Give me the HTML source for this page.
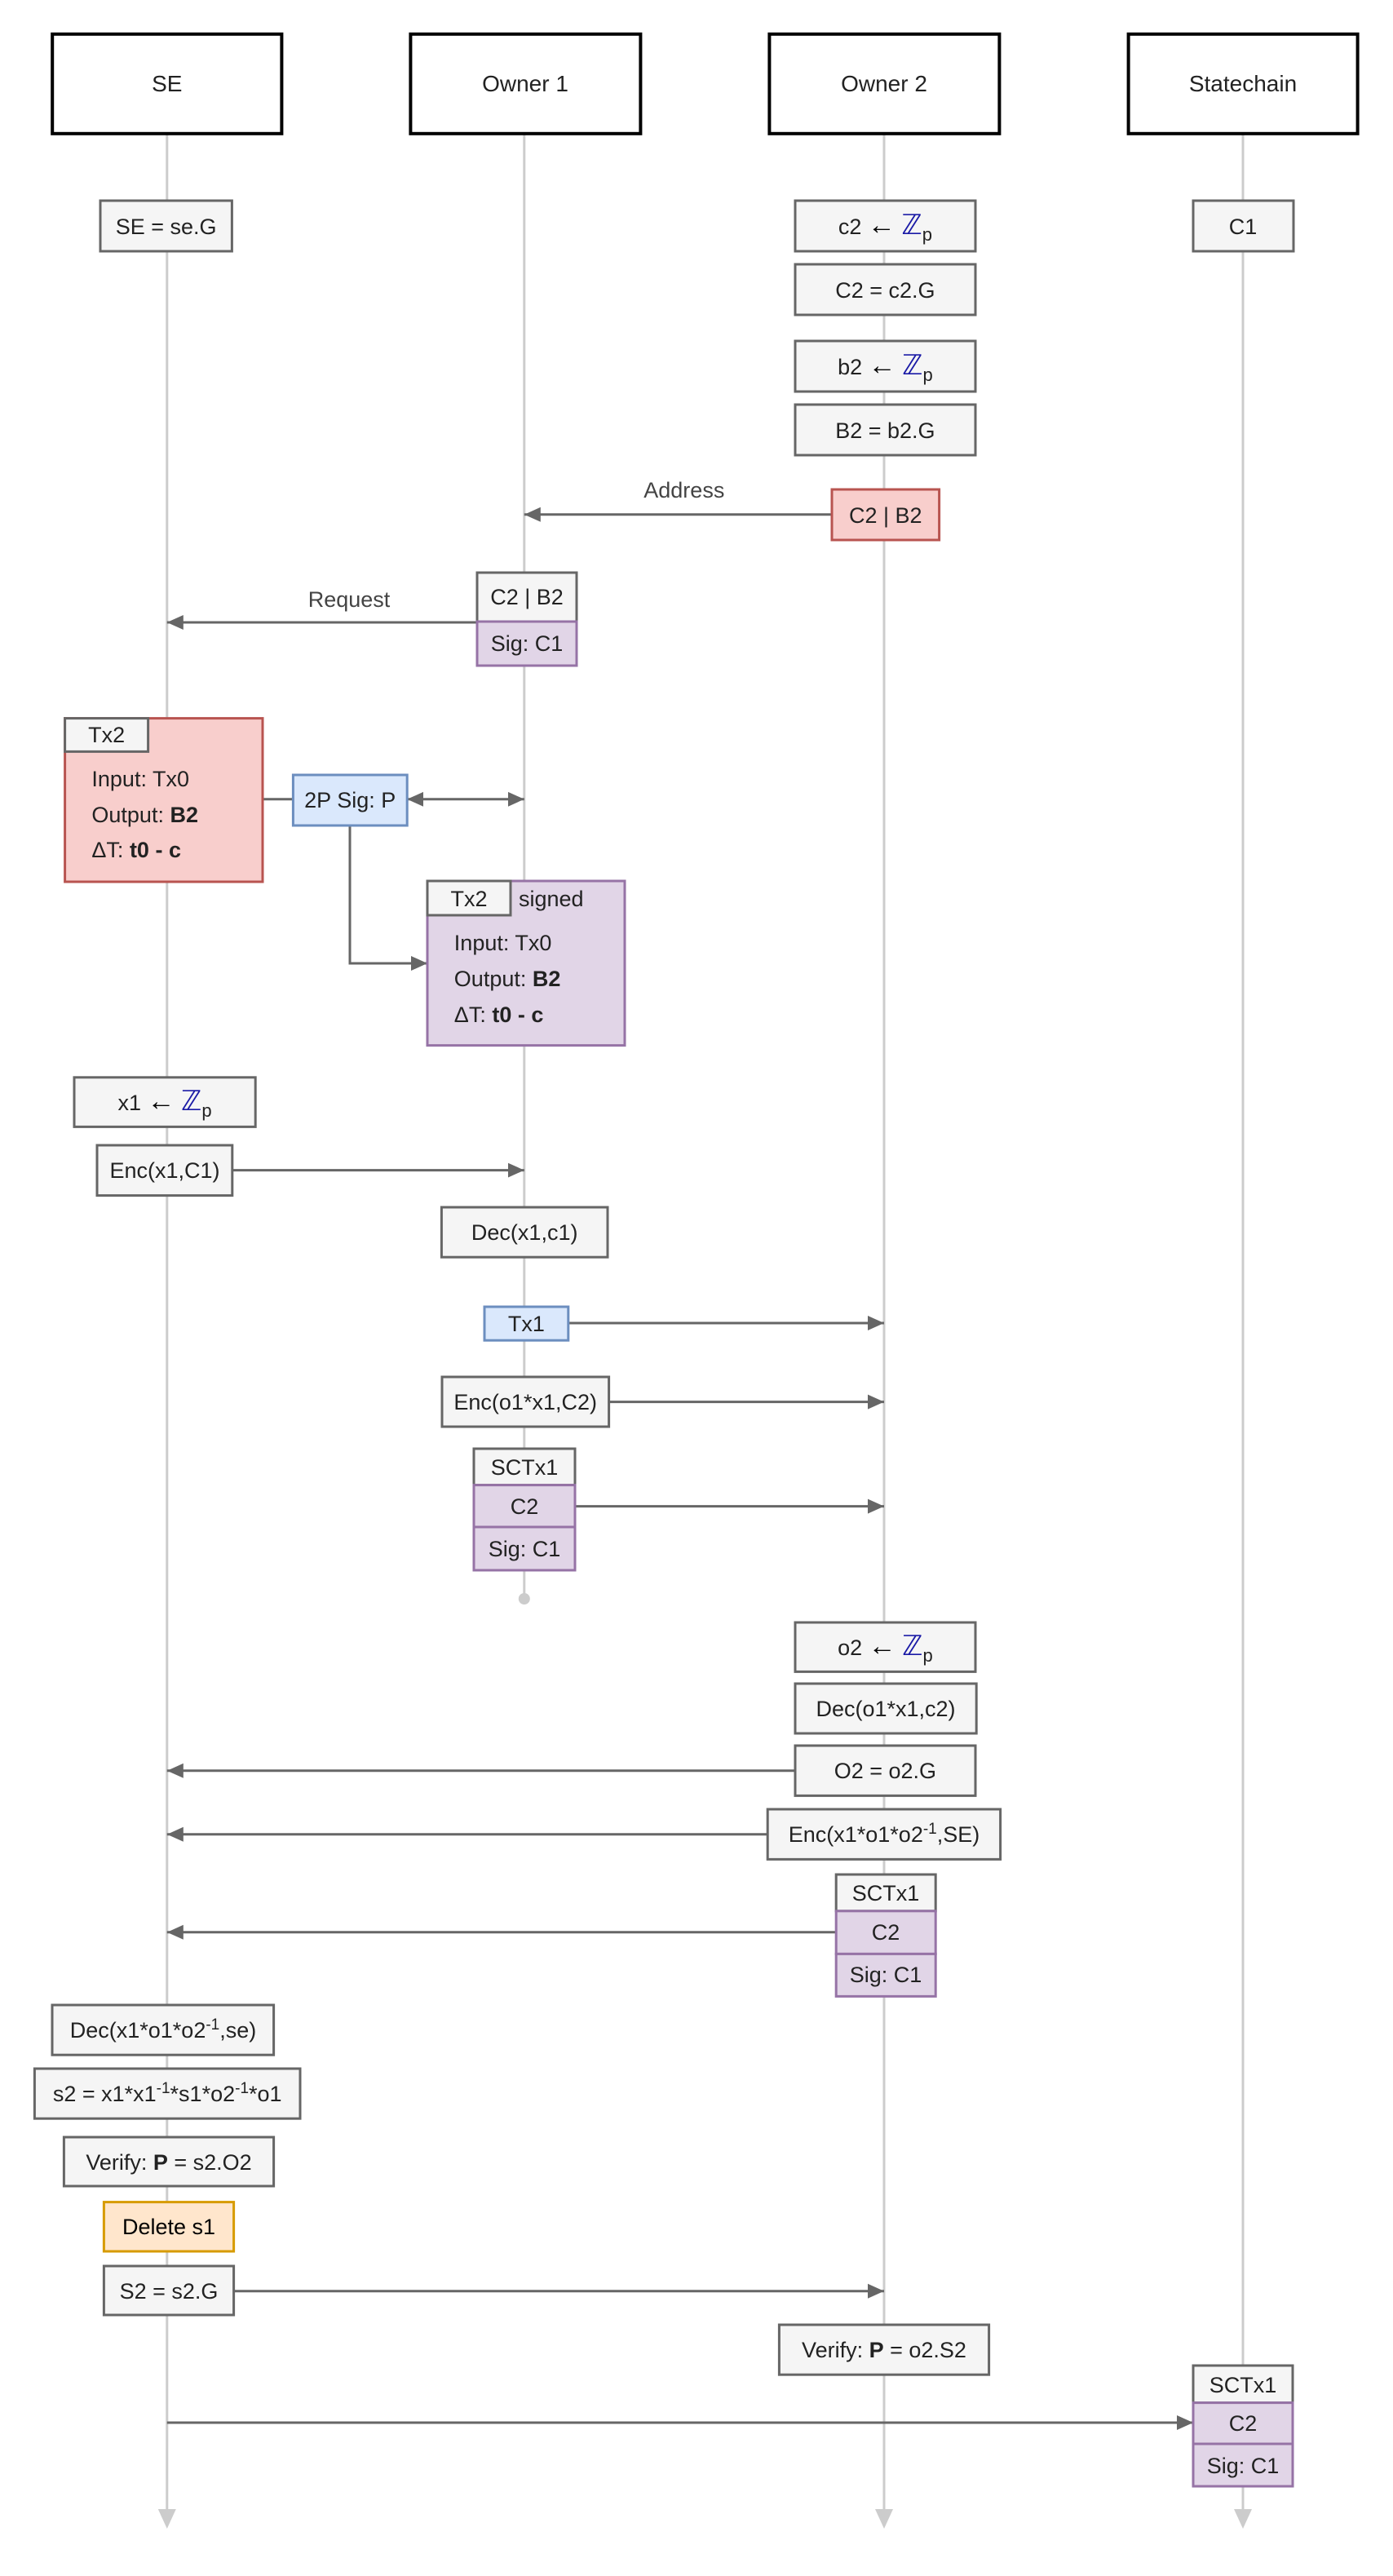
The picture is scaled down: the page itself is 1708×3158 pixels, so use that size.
<!DOCTYPE html>
<html><head><meta charset="utf-8"><style>
html,body{margin:0;padding:0;background:#fff}
svg{display:block}
text{font-family:"Liberation Sans",Arial,sans-serif;font-size:13.5px;fill:#222}
.ar{font-size:17px;fill:#000}
</style></head><body>
<svg width="1708" height="3158" viewBox="0 0 854 1579" xmlns="http://www.w3.org/2000/svg">
<defs>
<marker id="ah" viewBox="0 0 10 10" refX="10" refY="5" markerWidth="10" markerHeight="10" markerUnits="userSpaceOnUse" orient="auto-start-reverse"><path d="M0,0.5 L10,5 L0,9.5 z" fill="#666"/></marker>
</defs>
<g stroke="#ccc" stroke-width="1.5">
<line x1="102.4" y1="82" x2="102.4" y2="1540"/>
<line x1="321.4" y1="82" x2="321.4" y2="980"/>
<line x1="542" y1="82" x2="542" y2="1540"/>
<line x1="762" y1="82" x2="762" y2="1540"/>
</g>
<g fill="#ccc">
<path d="M96.9,1538 L107.9,1538 L102.4,1550z"/>
<path d="M536.5,1538 L547.5,1538 L542,1550z"/>
<path d="M756.5,1538 L767.5,1538 L762,1550z"/>
<circle cx="321.4" cy="980" r="3.5"/>
</g>
<g fill="#fff" stroke="#000" stroke-width="2">
<rect x="32.1" y="20.9" width="140.6" height="61"/>
<rect x="251.7" y="20.9" width="141" height="61"/>
<rect x="471.7" y="20.9" width="141" height="61"/>
<rect x="691.8" y="20.9" width="140.5" height="61"/>
</g>
<g text-anchor="middle">
<text x="102.4" y="56" style="font-size:14px">SE</text>
<text x="322" y="56" style="font-size:14px">Owner 1</text>
<text x="542" y="56" style="font-size:14px">Owner 2</text>
<text x="762" y="56" style="font-size:14px">Statechain</text>
</g>
<g stroke="#666" stroke-width="1.5" fill="none">
<line x1="510" y1="315.4" x2="321.4" y2="315.4" marker-end="url(#ah)"/>
<line x1="292.5" y1="381.5" x2="102.4" y2="381.5" marker-end="url(#ah)"/>
<line x1="161" y1="489.9" x2="179.7" y2="489.9"/>
<line x1="249.6" y1="489.9" x2="321.4" y2="489.9" marker-start="url(#ah)" marker-end="url(#ah)"/>
<polyline points="214.5,506 214.5,590.5 262,590.5" marker-end="url(#ah)"/>
<line x1="142.4" y1="717.3" x2="321.4" y2="717.3" marker-end="url(#ah)"/>
<line x1="348.4" y1="811" x2="542" y2="811" marker-end="url(#ah)"/>
<line x1="373.3" y1="859.3" x2="542" y2="859.3" marker-end="url(#ah)"/>
<line x1="352.5" y1="923.3" x2="542" y2="923.3" marker-end="url(#ah)"/>
<line x1="487.5" y1="1085.4" x2="102.4" y2="1085.4" marker-end="url(#ah)"/>
<line x1="470.6" y1="1124.4" x2="102.4" y2="1124.4" marker-end="url(#ah)"/>
<line x1="512.6" y1="1184.4" x2="102.4" y2="1184.4" marker-end="url(#ah)"/>
<line x1="143.3" y1="1404.4" x2="542" y2="1404.4" marker-end="url(#ah)"/>
<line x1="102.4" y1="1485" x2="731.5" y2="1485" marker-end="url(#ah)"/>
</g>
<text x="419.4" y="305" text-anchor="middle" style="fill:#444">Address</text>
<text x="214" y="372" text-anchor="middle" style="fill:#444">Request</text>
<g fill="#f5f5f5" stroke="#666" stroke-width="1.5">
<rect x="61.5" y="123" width="80.7" height="31"/>
<rect x="487.5" y="123" width="110.5" height="31"/>
<rect x="487.5" y="162" width="110.5" height="31"/>
<rect x="487.5" y="209" width="110.5" height="31"/>
<rect x="487.5" y="248" width="110.5" height="31"/>
<rect x="731.5" y="123" width="61.5" height="31"/>
<rect x="292.5" y="351" width="61" height="30"/>
<rect x="45.5" y="660.4" width="111.1" height="30.3"/>
<rect x="59.5" y="702" width="82.9" height="30.8"/>
<rect x="270.7" y="740" width="101.8" height="30.6"/>
<rect x="271" y="844" width="102.3" height="30.5"/>
<rect x="290.5" y="888" width="62" height="22.3"/>
<rect x="487.5" y="994.5" width="110.5" height="30.2"/>
<rect x="487.5" y="1032" width="111.1" height="30.5"/>
<rect x="487.5" y="1070" width="110.5" height="30.7"/>
<rect x="470.6" y="1109" width="142.7" height="30.7"/>
<rect x="512.6" y="1149" width="61" height="22.4"/>
<rect x="32" y="1229" width="135.8" height="30.6"/>
<rect x="21.2" y="1268" width="162.8" height="30.6"/>
<rect x="39.2" y="1310" width="128.6" height="30"/>
<rect x="63.7" y="1389" width="79.6" height="30"/>
<rect x="477.7" y="1425" width="128.6" height="30.6"/>
<rect x="731.5" y="1450" width="61" height="22.8"/>
</g>
<rect x="510" y="300" width="65.8" height="31" fill="#f8cecc" stroke="#b85450" stroke-width="1.5"/>
<rect x="292.5" y="381" width="61" height="27" fill="#e1d5e7" stroke="#9673a6" stroke-width="1.5"/>
<rect x="39.8" y="440.3" width="121.2" height="100.2" fill="#f8cecc" stroke="#b85450" stroke-width="1.5"/>
<rect x="39.8" y="440.3" width="51" height="20.4" fill="#f5f5f5" stroke="#666" stroke-width="1.5"/>
<rect x="179.7" y="475" width="69.9" height="31" fill="#dae8fc" stroke="#6c8ebf" stroke-width="1.5"/>
<rect x="262" y="540" width="121" height="100.8" fill="#e1d5e7" stroke="#9673a6" stroke-width="1.5"/>
<rect x="262" y="540" width="51" height="21" fill="#f5f5f5" stroke="#666" stroke-width="1.5"/>
<rect x="297" y="801" width="51.4" height="20.6" fill="#dae8fc" stroke="#6c8ebf" stroke-width="1.5"/>
<rect x="290.5" y="910.3" width="62" height="25.7" fill="#e1d5e7" stroke="#9673a6" stroke-width="1.5"/>
<rect x="290.5" y="936" width="62" height="26.5" fill="#e1d5e7" stroke="#9673a6" stroke-width="1.5"/>
<rect x="512.6" y="1171.4" width="61" height="26.3" fill="#e1d5e7" stroke="#9673a6" stroke-width="1.5"/>
<rect x="512.6" y="1197.7" width="61" height="26" fill="#e1d5e7" stroke="#9673a6" stroke-width="1.5"/>
<rect x="63.7" y="1349.8" width="79.6" height="30.2" fill="#ffe6cc" stroke="#d79b00" stroke-width="1.5"/>
<rect x="731.5" y="1472.8" width="61" height="25.2" fill="#e1d5e7" stroke="#9673a6" stroke-width="1.5"/>
<rect x="731.5" y="1498" width="61" height="26" fill="#e1d5e7" stroke="#9673a6" stroke-width="1.5"/>
<g text-anchor="middle">
<text x="101.8" y="143.5">SE = se.G</text>
<text x="542.7" y="143.5">c2 <tspan class="ar">←</tspan> <tspan style="font-family:'Liberation Serif',serif;fill:#1a1aa6;font-size:17px">ℤ</tspan><tspan dy="4" style="font-size:11px">p</tspan></text>
<text x="542.7" y="182.5">C2 = c2.G</text>
<text x="542.7" y="229.5">b2 <tspan class="ar">←</tspan> <tspan style="font-family:'Liberation Serif',serif;fill:#1a1aa6;font-size:17px">ℤ</tspan><tspan dy="4" style="font-size:11px">p</tspan></text>
<text x="542.7" y="268.5">B2 = b2.G</text>
<text x="762" y="143.5">C1</text>
<text x="542.9" y="320.5">C2 | B2</text>
<text x="323" y="370.5">C2 | B2</text>
<text x="323" y="399">Sig: C1</text>
<text x="65.3" y="455">Tx2</text>
<text x="214.6" y="495">2P Sig: P</text>
<text x="287.5" y="555.5">Tx2</text>
<text x="101" y="680.5">x1 <tspan class="ar">←</tspan> <tspan style="font-family:'Liberation Serif',serif;fill:#1a1aa6;font-size:17px">ℤ</tspan><tspan dy="4" style="font-size:11px">p</tspan></text>
<text x="101" y="722">Enc(x1,C1)</text>
<text x="321.6" y="760">Dec(x1,c1)</text>
<text x="322.7" y="816">Tx1</text>
<text x="322.1" y="864">Enc(o1*x1,C2)</text>
<text x="321.5" y="904">SCTx1</text>
<text x="321.5" y="928">C2</text>
<text x="321.5" y="954">Sig: C1</text>
<text x="542.7" y="1014.5">o2 <tspan class="ar">←</tspan> <tspan style="font-family:'Liberation Serif',serif;fill:#1a1aa6;font-size:17px">ℤ</tspan><tspan dy="4" style="font-size:11px">p</tspan></text>
<text x="543" y="1052">Dec(o1*x1,c2)</text>
<text x="542.7" y="1090">O2 = o2.G</text>
<text x="542" y="1129">Enc(x1*o1*o2<tspan dy="-5" style="font-size:9.5px">-1</tspan><tspan dy="5">,SE)</tspan></text>
<text x="543" y="1165">SCTx1</text>
<text x="543" y="1189">C2</text>
<text x="543" y="1215">Sig: C1</text>
<text x="100" y="1249">Dec(x1*o1*o2<tspan dy="-5" style="font-size:9.5px">-1</tspan><tspan dy="5">,se)</tspan></text>
<text x="102.6" y="1288">s2 = x1*x1<tspan dy="-5" style="font-size:9.5px">-1</tspan><tspan dy="5">*s1*o2</tspan><tspan dy="-5" style="font-size:9.5px">-1</tspan><tspan dy="5">*o1</tspan></text>
<text x="103.5" y="1330">Verify: <tspan font-weight="bold">P</tspan> = s2.O2</text>
<text x="103.5" y="1369.5" style="fill:#000">Delete s1</text>
<text x="103.5" y="1409">S2 = s2.G</text>
<text x="542" y="1445">Verify: <tspan font-weight="bold">P</tspan> = o2.S2</text>
<text x="762" y="1466.5">SCTx1</text>
<text x="762" y="1490">C2</text>
<text x="762" y="1516">Sig: C1</text>
</g>
<g style="fill:#000">
<text x="56.2" y="482">Input: Tx0</text>
<text x="56.2" y="504">Output: <tspan font-weight="bold">B2</tspan></text>
<text x="56.2" y="525.5">ΔT: <tspan font-weight="bold">t0 - c</tspan></text>
<text x="318" y="555.5">signed</text>
<text x="278.4" y="582.5">Input: Tx0</text>
<text x="278.4" y="604.5">Output: <tspan font-weight="bold">B2</tspan></text>
<text x="278.4" y="626.5">ΔT: <tspan font-weight="bold">t0 - c</tspan></text>
</g>
</svg>
</body></html>
